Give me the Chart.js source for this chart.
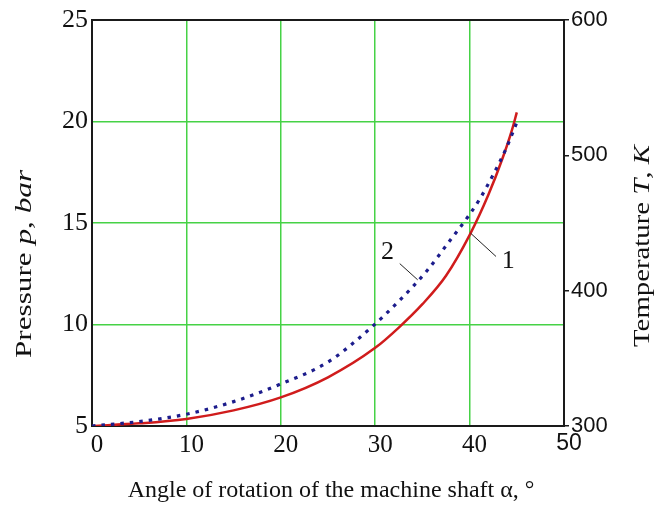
<!DOCTYPE html>
<html><head><meta charset="utf-8">
<script src="https://cdn.jsdelivr.net/npm/chart.js@4/dist/chart.umd.min.js"></script>
<style>html,body{margin:0;padding:0;background:#fff;}#wrap{width:657px;height:506px;position:relative;}</style>
</head><body><div id="wrap"><canvas id="c" width="657" height="506"></canvas></div>
<script>
// Curve 1 (solid red): pressure vs shaft angle
const angle1 = [0, 5, 10, 15, 20, 25, 30, 32.5, 35, 37.5, 40, 42, 43.5, 44.5, 45];
const pressure1 = [5, 5.13, 5.35, 5.77, 6.41, 7.4, 8.85, 9.85, 11.0, 12.4, 14.4, 16.4, 18.2, 19.6, 20.45];
// Curve 2 (dotted blue)
const angle2 = [0, 5, 10, 15, 20, 25, 29.5, 32.6, 35.4, 38.1, 40, 41.1, 42.5, 43.9, 45];
const pressure2 = [5, 5.22, 5.58, 6.2, 7.07, 8.15, 9.82, 11.2, 12.6, 14.25, 15.42, 16.2, 17.38, 18.7, 19.95];
const xTicks = [0, 10, 20, 30, 40, 50];
const pTicks = [5, 10, 15, 20, 25];
const tTicks = [300, 400, 500, 600];
const curveLabels = ['1', '2'];
const xTitle = 'Angle of rotation of the machine shaft \u03b1, \u00b0';
const yTitleParts = [['Pressure ', false], ['p', true], [', ', false], ['bar', true]];
const y2TitleParts = [['Temperature ', false], ['T', true], [', ', false], ['K', true]];

// label anchor (data units) and leader line start/end (data units)
const labelPlaces = [
  {text: curveLabels[0], at: [44.1, 13.1], from: [40.1, 14.5], to: [42.8, 13.35]},
  {text: curveLabels[1], at: [31.3, 13.55], from: [32.6, 13.0], to: [34.5, 12.2]}
];

const SERIF = '"Liberation Serif", "Times New Roman", serif';
const SANS = '"Liberation Sans", Arial, sans-serif';
const GREEN = '#46d246';
const FRAME = '#1a1a1a';

function hideEdges(min, max) {
  return ctx => (ctx.tick && (ctx.tick.value === min || ctx.tick.value === max)) ? 'rgba(0,0,0,0)' : GREEN;
}

function drawParts(ctx, parts, cx, cy, rot, size, stretch) {
  ctx.save();
  ctx.translate(cx, cy);
  ctx.rotate(rot);
  ctx.scale(stretch, 1);
  let total = 0;
  const widths = parts.map(([t, it]) => {
    ctx.font = (it ? 'italic ' : '') + size + 'px ' + SERIF;
    const w = ctx.measureText(t).width; total += w; return w;
  });
  let x = -total / 2;
  ctx.fillStyle = '#111';
  ctx.textBaseline = 'middle';
  ctx.textAlign = 'left';
  parts.forEach(([t, it], i) => {
    ctx.font = (it ? 'italic ' : '') + size + 'px ' + SERIF;
    ctx.fillText(t, x, 0);
    x += widths[i];
  });
  ctx.restore();
}

const decor = {
  id: 'decor',
  beforeDatasetsDraw(chart) {
    const {ctx, chartArea: a} = chart;
    ctx.save();
    ctx.strokeStyle = FRAME;
    ctx.lineWidth = 2;
    ctx.strokeRect(a.left, a.top, a.right - a.left, a.bottom - a.top);
    ctx.restore();
  },
  afterDatasetsDraw(chart) {
    const {ctx} = chart;
    const xs = chart.scales.x, ys = chart.scales.y;
    ctx.save();
    labelPlaces.forEach(l => {
      ctx.strokeStyle = '#222';
      ctx.lineWidth = 1;
      ctx.beginPath();
      ctx.moveTo(xs.getPixelForValue(l.from[0]), ys.getPixelForValue(l.from[1]));
      ctx.lineTo(xs.getPixelForValue(l.to[0]), ys.getPixelForValue(l.to[1]));
      ctx.stroke();
      ctx.font = '26px ' + SERIF;
      ctx.fillStyle = '#111';
      ctx.textAlign = 'center';
      ctx.textBaseline = 'middle';
      ctx.fillText(l.text, xs.getPixelForValue(l.at[0]), ys.getPixelForValue(l.at[1]));
    });
    ctx.restore();
  },
  afterDraw(chart) {
    const {ctx} = chart;
    drawParts(ctx, [[xTitle, false]], 331, 491, 0, 24, 1);
    drawParts(ctx, yTitleParts, 25, 264, -Math.PI / 2, 24, 1.3);
    drawParts(ctx, y2TitleParts, 643, 246, -Math.PI / 2, 24, 1.2);
  }
};

new Chart(document.getElementById('c'), {
  type: 'line',
  data: {
    datasets: [
      {
        label: 'Curve 2',
        data: angle2.map((a, i) => ({x: a, y: pressure2[i]})),
        borderColor: '#1c1c8c',
        borderWidth: 3.2,
        borderDash: [3.5, 6],
        borderCapStyle: 'butt',
        pointRadius: 0,
        cubicInterpolationMode: 'monotone',
        fill: false
      },
      {
        label: 'Curve 1',
        data: angle1.map((a, i) => ({x: a, y: pressure1[i]})),
        borderColor: '#d01c1c',
        borderWidth: 2.5,
        pointRadius: 0,
        cubicInterpolationMode: 'monotone',
        fill: false
      }
    ]
  },
  options: {
    responsive: false,
    animation: false,
    devicePixelRatio: 1,
    layout: {padding: {top: 20, left: 0, right: 0, bottom: 0}},
    plugins: {legend: {display: false}, tooltip: {enabled: false}},
    scales: {
      x: {
        type: 'linear', min: 0, max: 50,
        afterBuildTicks: s => { s.ticks = xTicks.map(v => ({value: v})); },
        afterFit: s => { s.height = 80; },
        grid: {color: hideEdges(0, 50), lineWidth: 1.5, drawTicks: false},
        border: {display: true, color: FRAME, width: 2},
        ticks: {
          font: ctx => (ctx.tick && ctx.tick.value === 50) ? {family: SANS, size: 23} : {family: SERIF, size: 25},
          color: '#111', padding: 4, labelOffset: 5, maxRotation: 0
        }
      },
      y: {
        type: 'linear', position: 'left', min: 5, max: 25,
        afterBuildTicks: s => { s.ticks = pTicks.map(v => ({value: v})); },
        afterFit: s => { s.width = 92; },
        grid: {color: hideEdges(5, 25), lineWidth: 1.5, drawTicks: false},
        border: {display: true, color: FRAME, width: 2},
        ticks: {font: {family: SERIF, size: 26}, color: '#111', padding: 4}
      },
      y2: {
        type: 'linear', position: 'right', min: 300, max: 600,
        afterBuildTicks: s => { s.ticks = tTicks.map(v => ({value: v})); },
        afterFit: s => { s.width = 93; },
        grid: {drawOnChartArea: false, color: FRAME, tickLength: 5, lineWidth: 1.5},
        border: {display: true, color: FRAME, width: 2},
        ticks: {font: {family: SANS, size: 22}, color: '#111', padding: 2}
      }
    }
  },
  plugins: [decor]
});
</script></body></html>
